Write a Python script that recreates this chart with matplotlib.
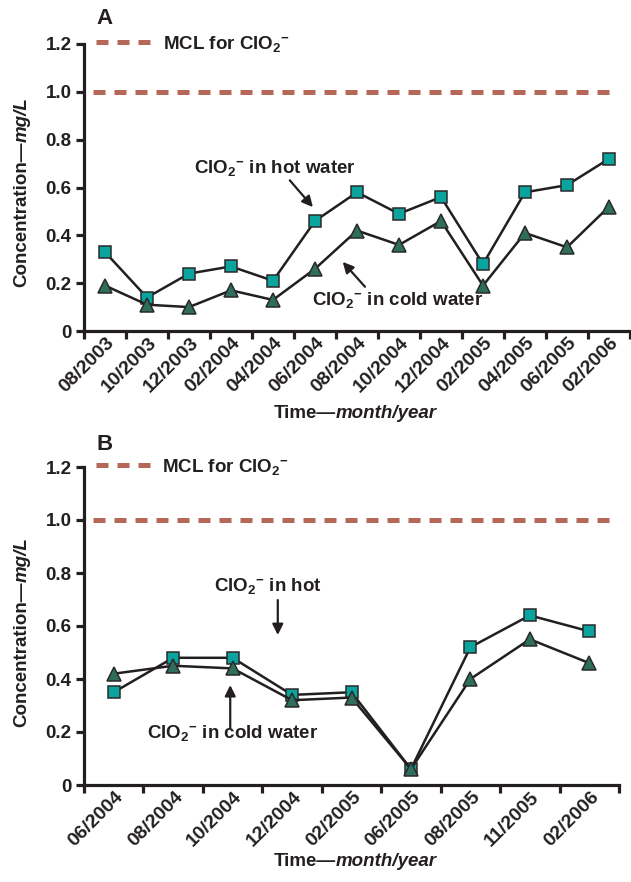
import matplotlib
matplotlib.use('Agg')
import matplotlib.pyplot as plt
import matplotlib.transforms as mtrans
from matplotlib.ticker import FixedLocator, NullFormatter

plt.rcParams['font.family'] = ['Liberation Sans', 'DejaVu Sans']
plt.rcParams['font.weight'] = 'bold'
plt.rcParams['mathtext.fontset'] = 'custom'
plt.rcParams['mathtext.rm'] = 'Liberation Sans:bold'
plt.rcParams['mathtext.it'] = 'Liberation Sans:italic:bold'
plt.rcParams['mathtext.bf'] = 'Liberation Sans:bold'

# ---------------- data ----------------
dates_a = ['08/2003', '10/2003', '12/2003', '02/2004', '04/2004', '06/2004', '08/2004',
           '10/2004', '12/2004', '02/2005', '04/2005', '06/2005', '02/2006']
hot_a = [0.33, 0.14, 0.24, 0.27, 0.21, 0.46, 0.58, 0.49, 0.56, 0.28, 0.58, 0.61, 0.72]
cold_a = [0.19, 0.11, 0.10, 0.17, 0.13, 0.26, 0.42, 0.36, 0.46, 0.19, 0.41, 0.35, 0.52]

dates_b = ['06/2004', '08/2004', '10/2004', '12/2004', '02/2005', '06/2005', '08/2005',
           '11/2005', '02/2006']
hot_b = [0.35, 0.48, 0.48, 0.34, 0.35, 0.06, 0.52, 0.64, 0.58]
cold_b = [0.42, 0.45, 0.44, 0.32, 0.33, 0.06, 0.40, 0.55, 0.46]

mcl = 1.0
yticks = [0, 0.2, 0.4, 0.6, 0.8, 1.0, 1.2]
ytick_labels = ['0', '0.2', '0.4', '0.6', '0.8', '1.0', '1.2']

INK = '#231F20'
SQ = '#0BA39D'
TRI = '#2F6D5D'
MCLC = '#B56858'
FS = 13.5
W, H = 631, 882

fig = plt.figure(figsize=(6.31, 8.82), dpi=100)
renderer = fig.canvas.get_renderer()

CLO = r'ClO$_2$$^{-}$'


def two_part(cx, cy, first, second, rotation=0):
    """Place 'first' (bold) + 'second' (bold italic) centred at pixel (cx, cy)."""
    t1 = fig.text(0, 0, first, fontsize=FS, fontweight='bold', color=INK,
                  rotation=rotation, rotation_mode='anchor', ha='left', va='center')
    t2 = fig.text(0, 0, second, fontsize=FS, fontweight='bold', fontstyle='italic',
                  color=INK, rotation=rotation, rotation_mode='anchor', ha='left',
                  va='center')
    e1 = t1.get_window_extent(renderer)
    e2 = t2.get_window_extent(renderer)
    if rotation == 0:
        l1, l2 = e1.width, e2.width
        start = cx - (l1 + l2) / 2
        t1.set_position((start / W, 1 - cy / H))
        t2.set_position(((start + l1) / W, 1 - cy / H))
    else:
        l1, l2 = e1.height, e2.height
        start = cy + (l1 + l2) / 2  # pixel from top; text reads upward
        t1.set_position((cx / W, 1 - start / H))
        t2.set_position((cx / W, 1 - (start - l1) / H))


def panel(rect, dates, hot, cold, xline, letter, letter_xy):
    ax = fig.add_axes(rect)
    n = len(dates)
    x = list(range(n))
    ax.set_xlim(-0.5, n - 0.5)
    ax.set_ylim(0, 1.2)
    for s in ['top', 'right']:
        ax.spines[s].set_visible(False)
    for s in ['left', 'bottom']:
        ax.spines[s].set_linewidth(2.3)
        ax.spines[s].set_color(INK)
    ax.axhline(mcl, xmin=xline[0], xmax=xline[1], color=MCLC, lw=3.6,
               dashes=(2.4, 1.8), label='MCL for ' + CLO, zorder=1)
    ax.plot(x, hot, color=INK, lw=1.8, marker='s', ms=8.5, mfc=SQ, mec='#2a2a2a',
            mew=1.1, zorder=3)
    ax.plot(x, cold, color=INK, lw=1.8, marker='^', ms=10.5, mfc=TRI, mec='#2a2a2a',
            mew=1.1, zorder=4)
    ax.set_yticks(yticks)
    ax.set_yticklabels(ytick_labels)
    ax.tick_params(axis='y', direction='out', length=6, width=2.3, color=INK,
                   labelsize=FS, pad=3, labelcolor=INK)
    ax.xaxis.set_major_locator(FixedLocator(x))
    ax.set_xticklabels(dates)
    ax.xaxis.set_minor_locator(FixedLocator([i - 0.5 for i in range(n + 1)]))
    ax.xaxis.set_minor_formatter(NullFormatter())
    ax.tick_params(axis='x', which='major', length=0, labelsize=FS + 0.5, pad=7,
                   labelcolor=INK)
    ax.tick_params(axis='x', which='minor', direction='out', length=6, width=2.3,
                   color=INK)
    off = mtrans.ScaledTranslation(7 / 100, 0, fig.dpi_scale_trans)
    for lab in ax.get_xticklabels():
        lab.set_rotation(45)
        lab.set_rotation_mode('anchor')
        lab.set_ha('right')
        lab.set_va('center')
        lab.set_transform(lab.get_transform() + off)
    leg = ax.legend(loc='center left', bbox_to_anchor=(0.022, 1.0), frameon=False,
                    fontsize=FS, handlelength=3.1, handletextpad=0.45,
                    borderpad=0, borderaxespad=0)
    for t in leg.get_texts():
        t.set_color(INK)
    fig.text(letter_xy[0] / W, 1 - letter_xy[1] / H, letter, fontsize=16,
             fontweight='bold', color=INK, ha='left', va='center')
    return ax


axA = panel([84 / W, 1 - 331 / H, 546 / W, 287 / H], dates_a, hot_a, cold_a,
            (0.016, 0.974), 'A', (96, 18))
axB = panel([84 / W, 1 - 785 / H, 535 / W, 318 / H], dates_b, hot_b, cold_b,
            (0.017, 0.994), 'B', (96, 444))

# axis titles
two_part(355, 413, 'Time—', 'month/year')
two_part(355, 862, 'Time—', 'month/year')
two_part(22, 192, 'Concentration—', 'mg/L', rotation=90)
two_part(22, 632, 'Concentration—', 'mg/L', rotation=90)

arrow = dict(arrowstyle='-|>', color=INK, lw=1.6, mutation_scale=16,
             shrinkA=0, shrinkB=0)
axA.text(4.05, 0.68, CLO + ' in hot water', fontsize=FS, color=INK, ha='center',
         va='center')
axA.annotate('', xy=(4.95, 0.518), xytext=(4.40, 0.63), arrowprops=arrow)
axA.text(6.96, 0.13, CLO + ' in cold water', fontsize=FS, color=INK, ha='center',
         va='center')
axA.annotate('', xy=(5.66, 0.289), xytext=(6.19, 0.185), arrowprops=arrow)

axB.text(2.60, 0.75, CLO + ' in hot', fontsize=FS, color=INK, ha='center',
         va='center')
axB.annotate('', xy=(2.76, 0.566), xytext=(2.76, 0.698), arrowprops=arrow)
axB.text(2.0, 0.196, CLO + ' in cold water', fontsize=FS, color=INK, ha='center',
         va='center')
axB.annotate('', xy=(1.96, 0.377), xytext=(1.96, 0.215), arrowprops=arrow)

fig.savefig('out.png', dpi=100)
